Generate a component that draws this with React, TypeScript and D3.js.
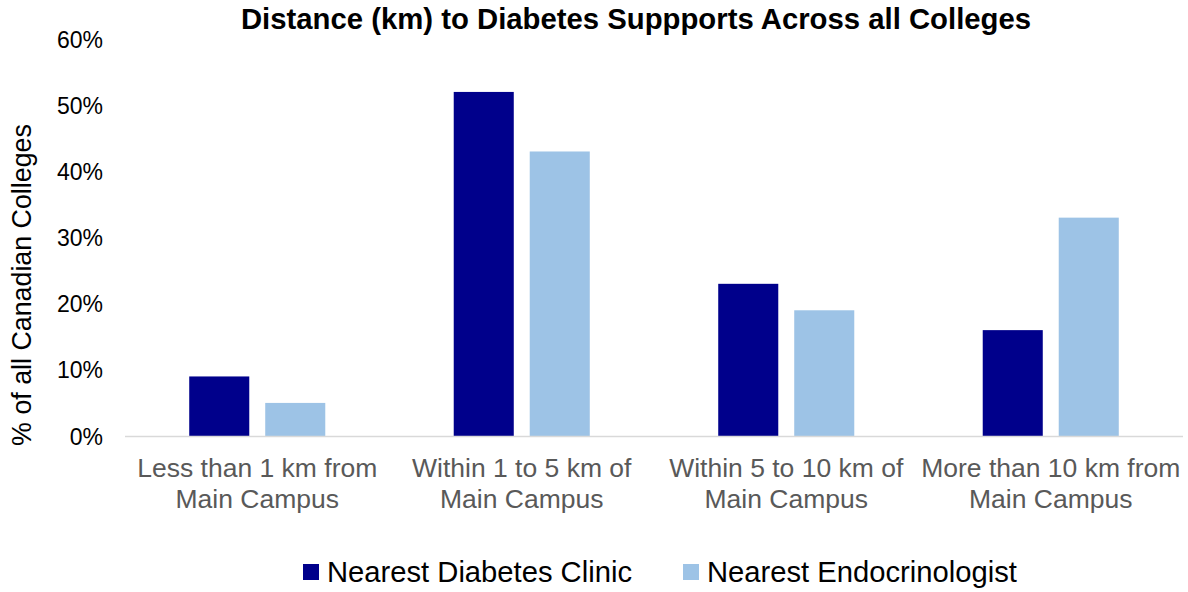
import * as d3 from "d3";

const categories = [
  ["Less than 1 km from", "Main Campus"],
  ["Within 1 to 5 km of", "Main Campus"],
  ["Within 5 to 10 km of", "Main Campus"],
  ["More than 10 km from", "Main Campus"],
];
const seriesNames = ["Nearest Diabetes Clinic", "Nearest Endocrinologist"];
const clinicValues = [9, 52, 23, 16];
const endoValues = [5, 43, 19, 33];
const yTicks = [0, 10, 20, 30, 40, 50, 60];
const colors = ["#00008B", "#9DC3E6"];

const W = 1188;
const H = 592;
const FONT = "'Liberation Sans', Arial, sans-serif";

export default function App() {
  const margin = { left: 125, right: 5, top: 39 };
  const plotW = W - margin.left - margin.right;
  const baseY = 436;

  const x0 = d3
    .scaleBand<number>()
    .domain(d3.range(categories.length))
    .range([margin.left, margin.left + plotW]);

  // two bars per group: 60px wide, 16px apart
  const x1 = d3
    .scaleBand<number>()
    .domain([0, 1])
    .range([0, x0.bandwidth()])
    .paddingInner(0.21)
    .paddingOuter(0.845);

  const y = d3.scaleLinear().domain([0, 60]).range([baseY, margin.top]);

  const series = [clinicValues, endoValues];

  return (
    <svg
      width={W}
      height={H}
      style={{ position: "absolute", left: 0, top: 0, fontFamily: FONT }}
    >
      <rect width={W} height={H} fill="#fff" />
      <text
        x={636}
        y={29}
        textAnchor="middle"
        fontSize={29.3}
        fontWeight="bold"
        fill="#000"
      >
        Distance (km) to Diabetes Suppports Across all Colleges
      </text>

      {/* y ticks */}
      {yTicks.map((t) => (
        <text
          key={t}
          x={103}
          y={y(t) + 8.5}
          textAnchor="end"
          fontSize={23}
          fill="#000"
        >
          {t}%
        </text>
      ))}

      <text
        transform={`translate(31,${285}) rotate(-90)`}
        textAnchor="middle"
        fontSize={26.8}
        fill="#000"
      >
        % of all Canadian Colleges
      </text>

      {/* bars */}
      {categories.map((_, ci) =>
        series.map((vals, si) => (
          <rect
            key={`${ci}-${si}`}
            x={(x0(ci) ?? 0) + (x1(si) ?? 0)}
            y={y(vals[ci])}
            width={x1.bandwidth()}
            height={baseY - y(vals[ci])}
            fill={colors[si]}
          />
        ))
      )}

      <line
        x1={margin.left}
        x2={margin.left + plotW}
        y1={baseY + 0.5}
        y2={baseY + 0.5}
        stroke="#D9D9D9"
        strokeWidth={1.5}
      />

      {/* x labels */}
      {categories.map((lines, ci) => {
        const cx = (x0(ci) ?? 0) + x0.bandwidth() / 2;
        return (
          <text key={ci} textAnchor="middle" fontSize={26.5} fill="#595959">
            {lines.map((l, li) => (
              <tspan key={li} x={cx} y={477 + li * 31}>
                {l}
              </tspan>
            ))}
          </text>
        );
      })}

      {/* legend */}
      {seriesNames.map((name, i) => {
        const lx = i === 0 ? 303 : 683;
        return (
          <g key={name}>
            <rect x={lx} y={564} width={16} height={16} fill={colors[i]} />
            <text x={lx + 24} y={582} fontSize={29.2} fill="#000">
              {name}
            </text>
          </g>
        );
      })}
    </svg>
  );
}
